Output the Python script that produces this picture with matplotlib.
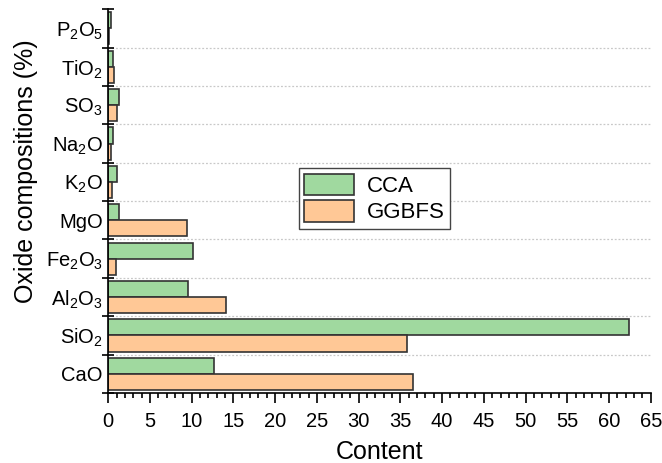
import numpy as np
import matplotlib.pyplot as plt

plt.rcParams['font.family'] = ['Liberation Sans', 'DejaVu Sans']
plt.rcParams['mathtext.fontset'] = 'custom'
plt.rcParams['mathtext.rm'] = 'Liberation Sans'
plt.rcParams['mathtext.it'] = 'Liberation Sans'
plt.rcParams['mathtext.default'] = 'regular'

# oxide contents (%), bottom to top
oxides = ['CaO', 'SiO$_2$', 'Al$_2$O$_3$', 'Fe$_2$O$_3$', 'MgO',
          'K$_2$O', 'Na$_2$O', 'SO$_3$', 'TiO$_2$', 'P$_2$O$_5$']
cca = [12.65, 62.4, 9.55, 10.2, 1.28, 1.1, 0.6, 1.3, 0.6, 0.3]
ggbfs = [36.5, 35.75, 14.1, 0.88, 9.45, 0.5, 0.35, 1.05, 0.75, 0.05]

green = '#a0d99f'
orange = '#ffc896'
edge = '#333333'

fig = plt.figure(figsize=(6.62, 4.63), dpi=100)
ax = fig.add_axes([0.1635, 0.1512, 0.8195, 0.829])

y = np.arange(len(oxides))
h = 0.42
ax.barh(y + h / 2, cca, height=h, color=green, edgecolor=edge, linewidth=1.2, label='CCA')
ax.barh(y - h / 2, ggbfs, height=h, color=orange, edgecolor=edge, linewidth=1.2, label='GGBFS')

ax.set_xlim(0, 65)
ax.set_ylim(-0.5, len(oxides) - 0.5)

# category separators
bounds = np.arange(len(oxides) + 1) - 0.5
for b in bounds[1:-1]:
    ax.axhline(b, color='#c8c8c8', linestyle=(0, (1.5, 1.5)), linewidth=0.9, zorder=0)

ax.set_yticks(y, oxides)
ax.set_yticks(bounds, minor=True)
ax.tick_params(axis='y', which='major', length=0, labelsize=14.5, pad=4)
ax.tick_params(axis='y', which='minor', direction='inout', length=8, width=1.2)

ax.set_xticks(np.arange(0, 66, 5))
ax.set_xticks(np.arange(0, 66, 1), minor=True)
ax.tick_params(axis='x', which='major', direction='out', length=7, width=1.2,
               labelsize=14.5, pad=6.5)
ax.tick_params(axis='x', which='minor', direction='out', length=3.5, width=1.2)

for s in ['top', 'right']:
    ax.spines[s].set_visible(False)
for s in ['left', 'bottom']:
    ax.spines[s].set_linewidth(1.2)

ax.set_xlabel('Content', fontsize=18, labelpad=7)
ax.set_ylabel('Oxide compositions (%)', fontsize=18)
ax.yaxis.set_label_coords(-0.13, 0.578)

leg = ax.legend(loc='upper left', bbox_to_anchor=(0.351, 0.586), fontsize=16,
                fancybox=False, framealpha=1, edgecolor='#444444',
                handlelength=2.25, handleheight=1.1, handletextpad=0.55,
                borderpad=0.25, labelspacing=0.15, borderaxespad=0)
leg.get_frame().set_linewidth(1.0)

fig.savefig('out.png', dpi=100)
